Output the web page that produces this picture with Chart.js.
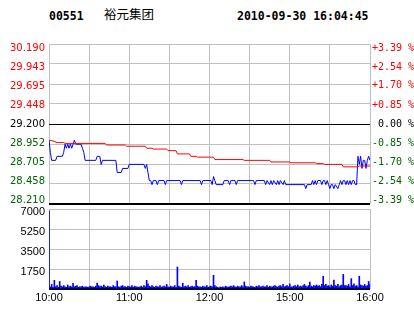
<!DOCTYPE html>
<html>
<head>
<meta charset="utf-8">
<script src="https://cdn.jsdelivr.net/npm/chart.js@4.4.0/dist/chart.umd.min.js"></script>
<style>
  html, body { margin: 0; padding: 0; background: #fff; }
  #wrap { position: relative; width: 414px; height: 314px; overflow: hidden; background: #fff; }
  #wrap canvas { position: absolute; left: 0; top: 0; }
  .hd { position: absolute; font: bold 11.5px "DejaVu Sans Mono", monospace; line-height: 14px; color: #000; white-space: pre; }
  .hd.name { font: 12.5px "Noto Sans CJK SC", sans-serif; line-height: 18px; }
</style>
</head>
<body>
<div id="wrap">
  <div class="hd" id="code" style="left:49px;top:9px"></div>
  <div class="hd name" id="name" style="left:104px;top:5px"></div>
  <div class="hd" id="stamp" style="left:237px;top:9px"></div>
  <canvas id="priceChart" width="414" height="214"></canvas>
  <canvas id="volChart" width="414" height="314"></canvas>
</div>
<script>
const stockCode = '00551';
const stockName = '裕元集团';
const stamp     = '2010-09-30 16:04:45';
const prevClose = 29.200;

// tick labels, bottom to top
const priceTickLabels = ['28.210', '28.458', '28.705', '28.952', '29.200', '29.448', '29.695', '29.943', '30.190'];
const pctTickLabels   = ['-3.39 %', '-2.54 %', '-1.70 %', '-0.85 %', ' 0.00 %', '+0.85 %', '+1.70 %', '+2.54 %', '+3.39 %'];
const volTickValues   = [0, 1750, 3500, 5250, 7000];
const volTickLabels   = ['', '1750', '3500', '5250', '7000'];
const timeTickMinutes = [0, 30, 60, 90, 120, 150, 180, 210, 240];
const timeLabels      = ['10:00', '', '11:00', '', '12:00', '', '15:00', '', '16:00'];

// last price (minute from 10:00, trading time only)
const priceMin = [0, 1, 2, 5, 6, 10, 11, 12, 13, 14, 15, 16, 17, 18, 19, 20, 24, 25, 26, 27,
  35, 36, 38, 39, 40, 50, 51, 54, 55, 59, 60, 71, 72, 73, 74, 75, 76, 77, 78, 80,
  81, 82, 86, 87, 88, 98, 99, 100, 113, 114, 115, 121, 122, 123, 124, 125, 130, 131, 134, 135,
  136, 139, 140, 141, 153, 154, 155, 161, 162, 163, 165, 166, 167, 168, 170, 171, 172, 173, 175, 176,
  177, 191, 192, 193, 196, 197, 198, 199, 200, 201, 203, 204, 205, 206, 207, 208, 209, 210, 211, 212,
  213, 214, 216, 217, 218, 219, 220, 221, 222, 223, 224, 225, 226, 227, 228, 229, 230, 231, 232, 233,
  234, 235, 236, 237, 238, 239, 240];
const priceVal = [29.00, 28.85, 28.75, 28.75, 28.80, 28.80, 28.85, 28.95, 28.90, 28.95, 28.90, 28.95, 28.90, 28.95, 29.00, 28.95, 28.95, 28.90, 28.85, 28.75,
  28.75, 28.80, 28.80, 28.70, 28.75, 28.75, 28.60, 28.60, 28.65, 28.65, 28.70, 28.70, 28.65, 28.70, 28.60, 28.50, 28.50, 28.45, 28.50, 28.50,
  28.45, 28.50, 28.50, 28.45, 28.50, 28.50, 28.45, 28.50, 28.50, 28.45, 28.50, 28.50, 28.45, 28.55, 28.50, 28.45, 28.45, 28.50, 28.50, 28.45,
  28.50, 28.50, 28.45, 28.50, 28.50, 28.45, 28.50, 28.50, 28.45, 28.50, 28.45, 28.50, 28.45, 28.50, 28.45, 28.50, 28.45, 28.50, 28.45, 28.50,
  28.45, 28.45, 28.40, 28.45, 28.45, 28.50, 28.45, 28.50, 28.45, 28.50, 28.50, 28.45, 28.50, 28.50, 28.45, 28.50, 28.45, 28.40, 28.45, 28.45,
  28.40, 28.45, 28.40, 28.45, 28.50, 28.45, 28.50, 28.50, 28.45, 28.50, 28.45, 28.50, 28.45, 28.50, 28.50, 28.45, 28.45, 28.80, 28.70, 28.80,
  28.65, 28.75, 28.75, 28.65, 28.75, 28.80, 28.75];

// average price
const avgMin = [0, 3, 6, 11, 12, 42, 43, 57, 58, 72, 73, 77, 78, 88, 89, 95, 96, 105, 106, 110,
  111, 123, 124, 145, 146, 165, 166, 180, 181, 199, 200, 205, 206, 219, 220, 231, 232, 240];
const avgVal = [29.00, 28.99, 28.97, 28.97, 28.96, 28.96, 28.94, 28.94, 28.925, 28.925, 28.90, 28.90, 28.89, 28.89, 28.87, 28.87, 28.83, 28.83, 28.80, 28.80,
  28.79, 28.79, 28.76, 28.76, 28.75, 28.75, 28.73, 28.73, 28.72, 28.72, 28.71, 28.71, 28.70, 28.70, 28.67, 28.67, 28.68, 28.68];

// volume per minute, minutes 0..240
const volume = [
  6850, 180, 400, 150, 760, 200, 300, 150, 660, 250, 180, 300, 200, 150, 350, 200, 250, 180, 500, 200,
  250, 300, 150, 200, 180, 250, 150, 200, 180, 150, 200, 250, 180, 200, 150, 250, 520, 300, 200, 250,
  180, 350, 200, 150, 250, 180, 200, 150, 300, 200, 180, 700, 200, 150, 250, 300, 180, 200, 150, 250,
  200, 180, 300, 150, 250, 200, 180, 150, 200, 250, 150, 300, 200, 760, 450, 250, 180, 300, 200, 150,
  250, 200, 180, 300, 150, 200, 250, 180, 400, 200, 150, 250, 200, 180, 300, 150, 1925, 250, 200, 150,
  500, 200, 250, 180, 300, 150, 200, 250, 180, 200, 760, 250, 180, 200, 150, 250, 200, 180, 300, 150,
  200, 250, 180, 1200, 300, 200, 150, 100, 180, 150, 200, 120, 250, 180, 150, 200, 250, 180, 300, 200,
  150, 250, 200, 180, 300, 200, 610, 250, 180, 200, 150, 250, 200, 180, 150, 250, 200, 300, 180, 200,
  250, 180, 200, 300, 150, 250, 200, 180, 250, 300, 200, 180, 250, 300, 200, 400, 180, 250, 300, 200,
  450, 200, 180, 250, 300, 200, 350, 180, 250, 200, 300, 400, 250, 200, 300, 610, 250, 200, 300, 250,
  350, 250, 300, 200, 400, 1120, 300, 400, 250, 300, 200, 350, 250, 770, 300, 250, 400, 200, 300, 350,
  1280, 300, 300, 250, 400, 200, 910, 300, 450, 250, 300, 200, 1120, 350, 300, 250, 400, 250, 300, 660,
  400
];

const GRID  = '#c0c0c0';
const RED   = '#ff0000';
const GREEN = '#006400';
const BLUE  = '#0000ff';
// the price panel keeps its outer tick labels 4px inside a 160px panel
const labelInset = 4 / 152;

document.getElementById('code').textContent  = stockCode;
document.getElementById('name').textContent  = stockName;
document.getElementById('stamp').textContent = stamp;

const pts = (xs, ys) => xs.map((x, i) => ({ x, y: ys[i] }));
const sideColor = v => v > 1e-6 ? RED : (v < -1e-6 ? GREEN : '#000');

function timeAxis(showLabels, height) {
    return {
        type: 'linear', min: 0, max: 240, offset: false,
        afterBuildTicks: s => { s.ticks = timeTickMinutes.map(v => ({ value: v })); },
        afterFit: s => { s.height = height; },
        grid: { color: GRID, drawTicks: false, offset: false },
        border: { display: false },
        ticks: {
            display: showLabels, padding: 2, autoSkip: false, maxRotation: 0, color: '#000',
            font: { family: 'Liberation Sans', size: 11 },
            callback: (v, i) => timeLabels[i]
        }
    };
}

// a label-only axis over the same panel, range widened so the end labels sit inside
function labelAxis(position, labels, lo, hi, width, font, colorOf) {
    const pad = (hi - lo) * labelInset;
    return {
        position, min: lo - pad, max: hi + pad,
        afterBuildTicks: s => { s.ticks = labels.map(t => ({ value: parseFloat(t) })); },
        afterFit: s => { s.width = width; },
        grid: { display: false, drawTicks: false },
        border: { display: false },
        ticks: {
            padding: position === 'left' ? 4 : 2, autoSkip: false, font,
            color: c => colorOf(c.tick.value),
            callback: (v, i) => labels[i]
        }
    };
}

const pLo = parseFloat(priceTickLabels[0]);
const pHi = parseFloat(priceTickLabels[priceTickLabels.length - 1]);

new Chart(document.getElementById('priceChart'), {
    type: 'line',
    data: {
        datasets: [
            { label: 'avg', data: pts(avgMin, avgVal), borderColor: RED, borderWidth: 1, pointRadius: 0, tension: 0, fill: false, order: 0, yAxisID: 'y' },
            { label: 'price', data: pts(priceMin, priceVal), borderColor: BLUE, borderWidth: 1, pointRadius: 0, tension: 0, fill: false, order: 1, yAxisID: 'y' }
        ]
    },
    options: {
        responsive: false, animation: false, devicePixelRatio: 1,
        layout: { padding: { top: 44, left: 0, right: 0, bottom: 0 } },
        plugins: { legend: { display: false }, tooltip: { enabled: false } },
        scales: {
            x: timeAxis(false, 10),
            yLabels: labelAxis('left', priceTickLabels, pLo, pHi, 49,
                { family: 'DejaVu Sans', size: 10 }, v => sideColor(v - prevClose)),
            y: {
                position: 'left', min: pLo, max: pHi,
                afterBuildTicks: s => { s.ticks = priceTickLabels.map(t => ({ value: parseFloat(t) })); },
                afterFit: s => { s.width = 0; },
                grid: {
                    drawTicks: false,
                    color: c => (Math.abs(c.tick.value - prevClose) < 1e-6 || c.index === 0) ? '#000' : GRID,
                    lineWidth: c => c.index === 0 ? 2 : 1
                },
                border: { display: false },
                ticks: { display: false }
            },
            pct: labelAxis('right', pctTickLabels, -3.39, 3.39, 44,
                { family: 'DejaVu Sans Mono', size: 10 }, sideColor)
        }
    }
});

new Chart(document.getElementById('volChart'), {
    type: 'bar',
    data: {
        datasets: [{
            label: 'volume',
            data: volume.map((v, m) => ({ x: m, y: v })),
            backgroundColor: BLUE, borderWidth: 0, barThickness: 1
        }]
    },
    options: {
        responsive: false, animation: false, devicePixelRatio: 1,
        layout: { padding: { top: 209, left: 0, right: 44, bottom: 0 } },
        plugins: { legend: { display: false }, tooltip: { enabled: false } },
        scales: {
            x: timeAxis(true, 25),
            y: {
                position: 'left', min: 0, max: 7000,
                afterBuildTicks: s => { s.ticks = volTickValues.map(v => ({ value: v })); },
                afterFit: s => { s.width = 49; },
                grid: {
                    drawTicks: false,
                    color: c => c.tick.value === 0 ? '#000' : GRID,
                    lineWidth: c => c.tick.value === 0 ? 2 : 1
                },
                border: { display: false },
                ticks: {
                    padding: 4, autoSkip: false, labelOffset: 3, color: '#000',
                    font: { family: 'Liberation Sans', size: 11 },
                    callback: (v, i) => volTickLabels[i]
                }
            }
        }
    }
});
</script>
</body>
</html>
